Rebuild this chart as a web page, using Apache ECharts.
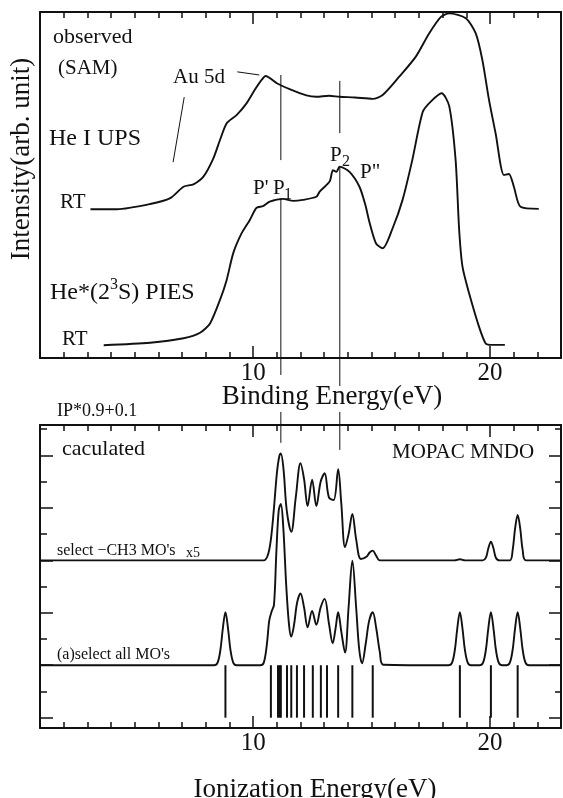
<!DOCTYPE html>
<html>
<head>
<meta charset="utf-8">
<script src="https://cdn.jsdelivr.net/npm/echarts@6/dist/echarts.min.js"></script>
<style>
html,body{margin:0;padding:0;background:#fff;}
#c{width:563px;height:798px;}
</style>
</head>
<body>
<div id="c"></div>
<script>
// ---------- DATA ----------
// Top panel: observed spectra, binding energy (eV) vs intensity (arb. unit, 0-100)
const upsEnergy = [3.13,4.25,5.65,6.5,7.06,7.48,7.9,8.32,8.6,8.88,9.3,9.72,10.07,10.35,10.53,11.0,11.54,12.25,12.67,13.2,13.65,14.3,15.05,15.47,16.17,16.87,17.43,17.93,18.28,18.98,19.4,19.68,19.96,20.24,20.59,20.8,21.01,21.29,22.06];
const upsIntensity = [43.0,43.0,44.5,46.2,49.5,50.2,52.4,57.7,63.0,67.8,70.2,73.6,77.5,80.3,81.5,79.4,77.7,75.9,75.5,75.8,75.5,75.3,74.9,76.0,81.3,87.1,93.8,98.6,99.6,98.2,93.8,86.1,74.6,64.9,52.9,53.2,49.5,43.7,43.1];
const piesEnergy = [3.69,5.65,7.06,7.76,8.18,8.6,8.88,9.16,9.51,9.86,10.14,10.42,10.7,11.26,11.7,12.1,12.67,12.81,13.23,13.37,13.52,13.65,14.07,14.49,14.74,14.91,15.19,15.47,15.89,16.31,16.72,17.16,17.5,17.96,18.28,18.55,18.7,18.84,19.12,19.54,19.82,20.04,20.63];
const piesIntensity = [3.7,4.4,5.7,7.3,10.0,16.8,22.5,30.3,36.0,39.9,43.4,43.9,45.2,46.0,45.4,45.7,46.6,48.1,51.0,54.3,53.8,55.3,53.8,49.5,44.2,39.3,33.1,31.7,37.5,45.7,57.2,71.1,74.1,76.5,72.8,57.2,37.0,26.4,18.7,9.0,4.2,3.8,3.8];

// Bottom panel: calculated spectra (ionization energy eV vs intensity, offset units)
const allMoEnergy = [1.0,8.35,8.5,8.62,8.72,8.83,8.94,9.04,9.16,9.3,10.3,10.45,10.58,10.68,10.78,10.88,10.98,11.08,11.17,11.27,11.4,11.52,11.61,11.72,11.86,12.0,12.15,12.3,12.49,12.67,12.85,13.02,13.2,13.36,13.48,13.59,13.72,13.88,14.03,14.19,14.35,14.48,14.6,14.75,14.9,15.05,15.2,15.35,15.5,18.25,18.4,18.52,18.62,18.73,18.84,18.94,19.06,19.2,19.56,19.71,19.83,19.93,20.04,20.15,20.25,20.37,20.52,20.69,20.84,20.96,21.06,21.17,21.28,21.38,21.5,21.65,23.0];
const allMoValue = [2.0,2.0,2.1,2.6,3.4,4.02,3.4,2.6,2.1,2.0,2.0,2.1,2.8,3.7,4.05,4.3,6.3,7.9,8.15,7.3,5.0,3.5,3.09,3.5,4.4,4.74,4.2,3.45,4.07,3.54,4.2,4.53,3.6,2.84,3.4,4.02,3.3,2.48,4.2,5.99,4.2,2.6,2.07,2.8,3.7,4.02,3.4,2.5,2.02,2.0,2.1,2.6,3.4,4.02,3.4,2.6,2.1,2.0,2.0,2.1,2.6,3.4,4.02,3.4,2.6,2.1,2.0,2.0,2.1,2.6,3.4,4.02,3.4,2.6,2.1,2.0,2.0];
const ch3Energy = [1.0,10.45,10.62,10.75,10.88,11.0,11.1,11.17,11.28,11.42,11.61,11.8,12.0,12.15,12.3,12.49,12.67,12.85,13.02,13.2,13.4,13.59,13.72,13.88,14.03,14.19,14.35,14.55,14.8,14.92,15.05,15.18,15.35,18.5,18.73,18.95,19.7,19.83,19.93,20.04,20.15,20.25,20.4,20.84,20.96,21.06,21.17,21.28,21.38,21.52,23.0];
const ch3Value = [6.0,6.0,6.2,6.8,8.0,9.3,9.95,10.08,9.5,7.9,7.09,8.4,9.7,9.1,8.07,9.07,8.07,9.0,9.32,8.4,8.3,9.47,8.2,6.5,7.0,7.77,6.8,6.05,6.15,6.3,6.37,6.2,6.0,6.0,6.04,6.0,6.0,6.1,6.45,6.71,6.45,6.1,6.0,6.0,6.4,7.2,7.73,7.2,6.4,6.0,6.0];
// MO stick positions (eV), each of unit height 2
const stickEnergy = [8.83,10.75,11.05,11.12,11.17,11.43,11.61,11.85,12.15,12.52,12.86,13.12,13.59,14.19,15.05,18.73,20.04,21.17];
const stickHeight = 2;

// reference (P1, P2) lines: eV positions
const refLineEnergy = {P1: 11.17, P2: 13.66};

// ---------- CHART ----------
const FONT = "'Liberation Serif','Times New Roman',serif";
const INK = '#111111';
const chart = echarts.init(document.getElementById('c'), null, {renderer: 'canvas'});

function zip(a, b) { return a.map((v, i) => [v, b[i]]); }

function xAxes(gridIndex, withLabels) {
  const base = {type: 'value', gridIndex, min: 1, max: 23, splitLine: {show: false}};
  return [
    Object.assign({}, base, {position: 'bottom', interval: 1,
      axisLine: {show: true, onZero: false, lineStyle: {color: INK, width: 2}},
      axisTick: {show: true, inside: true, length: 6, lineStyle: {color: INK, width: 1.5}},
      axisLabel: {show: false}}),
    Object.assign({}, base, {position: 'bottom',
      axisLine: {show: false, onZero: false},
      axisTick: {show: true, inside: true, length: 12, customValues: [10, 20], lineStyle: {color: INK, width: 1.5}},
      axisLabel: {show: withLabels, customValues: [10, 20], margin: 3, color: INK, fontSize: 25, fontFamily: FONT}}),
    Object.assign({}, base, {position: 'top', interval: 1,
      axisLine: {show: true, onZero: false, lineStyle: {color: INK, width: 2}},
      axisTick: {show: true, inside: true, length: 6, lineStyle: {color: INK, width: 1.5}},
      axisLabel: {show: false}}),
    Object.assign({}, base, {position: 'top',
      axisLine: {show: false, onZero: false},
      axisTick: {show: true, inside: true, length: 12, customValues: [10, 20], lineStyle: {color: INK, width: 1.5}},
      axisLabel: {show: false}})
  ];
}

const botMin = -0.393, botMax = 11.16;
const yAxes = [
  {type: 'value', gridIndex: 0, position: 'left', min: 0, max: 100, splitLine: {show: false},
   axisLine: {show: true, onZero: false, lineStyle: {color: INK, width: 2}}, axisTick: {show: false}, axisLabel: {show: false}},
  {type: 'value', gridIndex: 0, position: 'right', min: 0, max: 100, splitLine: {show: false},
   axisLine: {show: true, onZero: false, lineStyle: {color: INK, width: 2}}, axisTick: {show: false}, axisLabel: {show: false}},
  {type: 'value', gridIndex: 1, position: 'left', min: botMin, max: botMax, splitLine: {show: false},
   axisLine: {show: true, onZero: false, lineStyle: {color: INK, width: 2}},
   axisTick: {show: true, inside: true, length: 13, customValues: [0, 2, 4, 6, 8, 10], lineStyle: {color: INK, width: 1.5}},
   axisLabel: {show: false}},
  {type: 'value', gridIndex: 1, position: 'left', min: botMin, max: botMax, splitLine: {show: false},
   axisLine: {show: false, onZero: false},
   axisTick: {show: true, inside: true, length: 7, customValues: [1, 3, 5, 7, 9, 11], lineStyle: {color: INK, width: 1.5}},
   axisLabel: {show: false}},
  {type: 'value', gridIndex: 1, position: 'right', min: botMin, max: botMax, splitLine: {show: false},
   axisLine: {show: true, onZero: false, lineStyle: {color: INK, width: 2}},
   axisTick: {show: true, inside: true, length: 12, customValues: [0, 2, 4, 6, 8, 10], lineStyle: {color: INK, width: 1.5}},
   axisLabel: {show: false}},
  {type: 'value', gridIndex: 1, position: 'right', min: botMin, max: botMax, splitLine: {show: false},
   axisLine: {show: false, onZero: false},
   axisTick: {show: true, inside: true, length: 6, customValues: [1, 3, 5, 7, 9, 11], lineStyle: {color: INK, width: 1.5}},
   axisLabel: {show: false}}
];

function curve(data, xi, yi, smooth, w) {
  return {type: 'line', xAxisIndex: xi, yAxisIndex: yi, data, showSymbol: false, symbol: 'none',
    smooth, silent: true, animation: false, lineStyle: {color: INK, width: w || 1.9}};
}
function seg(x1, y1, x2, y2, xi, yi, w) {
  return {type: 'line', xAxisIndex: xi, yAxisIndex: yi, data: [[x1, y1], [x2, y2]], showSymbol: false,
    symbol: 'none', clip: false, silent: true, animation: false, z: 1, lineStyle: {color: INK, width: w || 1}};
}

const series = [
  curve(zip(upsEnergy, upsIntensity), 0, 0, 0.25),
  curve(zip(piesEnergy, piesIntensity), 0, 0, 0.25),
  curve(zip(allMoEnergy, allMoValue), 4, 2, 0.35),
  curve(zip(ch3Energy, ch3Value), 4, 2, 0.35),
  {type: 'bar', xAxisIndex: 4, yAxisIndex: 2, data: stickEnergy.map(e => [e, stickHeight]), barWidth: 2,
   itemStyle: {color: INK}, silent: true, animation: false},
  // P1 / P2 reference lines (top panel in intensity units, bottom panel in offset units)
  seg(refLineEnergy.P1, 81.8, refLineEnergy.P1, 57.2, 0, 0),
  seg(refLineEnergy.P1, 46.2, refLineEnergy.P1, -4.9, 0, 0),
  seg(refLineEnergy.P1, 11.66, refLineEnergy.P1, 10.48, 4, 2),
  seg(refLineEnergy.P2, 80.1, refLineEnergy.P2, 65.0, 0, 0),
  seg(refLineEnergy.P2, 55.2, refLineEnergy.P2, -8.1, 0, 0),
  seg(refLineEnergy.P2, 11.66, refLineEnergy.P2, 10.21, 4, 2),
  // leader lines
  seg(9.33, 82.7, 10.26, 81.8, 0, 0),
  seg(7.09, 75.4, 6.62, 56.6, 0, 0)
];

function txt(text, x, y, size, align, extra) {
  return Object.assign({type: 'text', x, y, silent: true, z: 10,
    style: {text, fill: INK, font: size + 'px ' + FONT, textAlign: align || 'left', textVerticalAlign: 'middle'}}, extra || {});
}

const graphic = [
  txt('Intensity(arb. unit)', 22, 159, 27, 'center', {rotation: Math.PI / 2}),
  txt('observed', 53, 37, 22),
  txt('(SAM)', 58, 68, 21),
  txt('Au 5d', 173, 77, 21),
  txt('He I UPS', 49, 139, 24),
  txt('RT', 60, 202, 21),
  txt("P'", 253, 188, 21),
  txt('P', 273, 188, 21),
  txt('1', 284, 195, 16),
  txt('P', 330, 155, 21),
  txt('2', 342, 162, 16),
  txt('P"', 360, 172, 21),
  {type: 'text', x: 50, y: 291, silent: true, z: 10,
   style: {text: '{n|He*(2}{s|3}{n|S) PIES}', fill: INK, textVerticalAlign: 'middle',
     rich: {n: {fontSize: 24, fontFamily: FONT, fill: INK, lineHeight: 28, verticalAlign: 'bottom'},
            s: {fontSize: 16, fontFamily: FONT, fill: INK, lineHeight: 28, verticalAlign: 'top'}}}},
  txt('RT', 62, 339, 21),
  txt('Binding Energy(eV)', 332, 397, 27, 'center'),
  txt('IP*0.9+0.1', 57, 411, 18),
  txt('caculated', 62, 449, 22),
  txt('MOPAC MNDO', 392, 452, 21),
  txt('select \u2212CH3 MO\'s', 57, 551, 16),
  txt('x5', 186, 553, 14),
  txt('(a)select all MO\'s', 57, 655, 16),
  txt('Ionization Energy(eV)', 315, 790, 27, 'center')
];

chart.setOption({
  animation: false,
  backgroundColor: '#ffffff',
  grid: [
    {left: 40, top: 12, width: 521, height: 346},
    {left: 40, top: 425, width: 521, height: 303}
  ],
  xAxis: xAxes(0, true).concat(xAxes(1, true)),
  yAxis: yAxes,
  series,
  graphic
});
</script>
</body>
</html>
